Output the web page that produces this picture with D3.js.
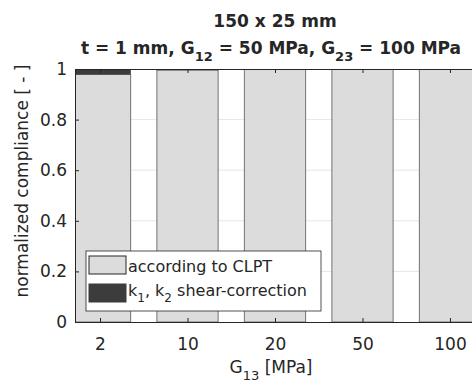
<!DOCTYPE html>
<html>
<head>
<meta charset="utf-8">
<script src="https://cdn.jsdelivr.net/npm/d3@7"></script>
<style>
  body { margin: 0; background: #fff; }
  text { font-family: "DejaVu Sans", sans-serif; fill: #262626; }
</style>
</head>
<body>
<script>
const categories = ['2', '10', '20', '50', '100'];
const clpt = [0.979, 0.996, 0.998, 0.999, 0.9995];
const shear = [0.021, 0.004, 0.002, 0.001, 0.0005];
const yticks = [0, 0.2, 0.4, 0.6, 0.8, 1];

const margin = { top: 69, left: 75 };
const width = 400;
const height = 253;

const svg = d3.select('body').append('svg')
    .attr('width', 472)
    .attr('height', 387);

const group = svg.append('g')
    .attr('transform', `translate(${margin.left}, ${margin.top})`);

const xscale = d3.scaleLinear().domain([0.714, 5.286]).range([0, width]);
const yscale = d3.scaleLinear().domain([0, 1]).range([height, 0]);
const barw = xscale(1.7) - xscale(1);

group.append('clipPath').attr('id', 'clip')
    .append('rect').attr('width', width).attr('height', height);

// grid
group.selectAll('line.grid').data(yticks.slice(1, -1)).join('line')
    .attr('class', 'grid')
    .attr('x1', 0).attr('x2', width)
    .attr('y1', (d) => yscale(d)).attr('y2', (d) => yscale(d))
    .attr('stroke', '#e6e6e6').attr('stroke-width', 1);

const bars = group.append('g').attr('clip-path', 'url(#clip)');

bars.selectAll('rect.clpt').data(clpt).join('rect')
    .attr('class', 'clpt')
    .attr('x', (d, i) => xscale(i + 1) - barw / 2)
    .attr('width', barw)
    .attr('y', (d) => yscale(d))
    .attr('height', (d) => yscale(0) - yscale(d))
    .attr('fill', '#dcdcdc').attr('stroke', '#737373').attr('stroke-width', 1);

bars.selectAll('rect.shear').data(shear).join('rect')
    .attr('class', 'shear')
    .attr('x', (d, i) => xscale(i + 1) - barw / 2)
    .attr('width', barw)
    .attr('y', (d, i) => yscale(clpt[i] + d))
    .attr('height', (d) => yscale(0) - yscale(d))
    .attr('fill', '#3c3c3c').attr('stroke', '#3c3c3c').attr('stroke-width', 0.5);

// axes with inward ticks
const xaxis = d3.axisBottom(xscale).tickValues([1, 2, 3, 4, 5])
    .tickFormat((d) => categories[d - 1]).tickSizeInner(-4).tickSizeOuter(0).tickPadding(16);
const g_xaxis = group.append('g').attr('transform', `translate(0, ${height})`).call(xaxis);
g_xaxis.selectAll('text').style('font-size', '17px');

const xtop = d3.axisTop(xscale).tickValues([1, 2, 3, 4, 5])
    .tickFormat('').tickSizeInner(-4).tickSizeOuter(0);
group.append('g').call(xtop);

const yaxis = d3.axisLeft(yscale).tickValues(yticks)
    .tickFormat((d) => d === 0 || d === 1 ? d : d3.format('.1f')(d))
    .tickSizeInner(-4).tickSizeOuter(0).tickPadding(8);
const g_yaxis = group.append('g').call(yaxis);
g_yaxis.selectAll('text').style('font-size', '17px');

group.append('line').attr('x1', width).attr('x2', width).attr('y1', 0).attr('y2', height);
group.selectAll('line:not(.grid)').attr('stroke', '#262626');
group.selectAll('.domain').attr('stroke', '#262626');

// legend
const legend = group.append('g').attr('transform', 'translate(11, 182)');
legend.append('rect').attr('width', 235).attr('height', 60)
    .attr('fill', '#fff').attr('stroke', '#262626').attr('stroke-width', 0.8);
const items = [
    { fill: '#dcdcdc', stroke: '#262626', y: 5 },
    { fill: '#3c3c3c', stroke: '#3c3c3c', y: 33 }
];
legend.selectAll('rect.item').data(items).join('rect')
    .attr('class', 'item')
    .attr('x', 3).attr('y', (d) => d.y).attr('width', 37).attr('height', 18)
    .attr('fill', (d) => d.fill).attr('stroke', (d) => d.stroke);
legend.append('text').attr('x', 42).attr('y', 21).style('font-size', '16px').text('according to CLPT');
const l2 = legend.append('text').attr('x', 42).attr('y', 45).style('font-size', '16px');
l2.append('tspan').text('k');
l2.append('tspan').attr('dy', 6).style('font-size', '12px').text('1');
l2.append('tspan').attr('dy', -6).text(', k');
l2.append('tspan').attr('dy', 6).style('font-size', '12px').text('2');
l2.append('tspan').attr('dy', -6).text(' shear-correction');

// titles
svg.append('text').attr('x', 275).attr('y', 27).attr('text-anchor', 'middle')
    .style('font-size', '17px').style('font-weight', 'bold').text('150 x 25 mm');
const t2 = svg.append('text').attr('x', 271).attr('y', 54).attr('text-anchor', 'middle')
    .style('font-size', '17px').style('font-weight', 'bold');
t2.append('tspan').text('t = 1 mm, G');
t2.append('tspan').attr('dy', 7).style('font-size', '13px').text('12');
t2.append('tspan').attr('dy', -7).text(' = 50 MPa, G');
t2.append('tspan').attr('dy', 7).style('font-size', '13px').text('23');
t2.append('tspan').attr('dy', -7).text(' = 100 MPa');

// axis labels
const xl = svg.append('text').attr('x', 271).attr('y', 373).attr('text-anchor', 'middle')
    .style('font-size', '17px');
xl.append('tspan').text('G');
xl.append('tspan').attr('dy', 7).style('font-size', '13px').text('13');
xl.append('tspan').attr('dy', -7).text(' [MPa]');

svg.append('text')
    .attr('transform', 'translate(28, 181) rotate(-90)')
    .attr('text-anchor', 'middle').style('font-size', '17px')
    .text('normalized compliance [ - ]');
</script>
</body>
</html>
